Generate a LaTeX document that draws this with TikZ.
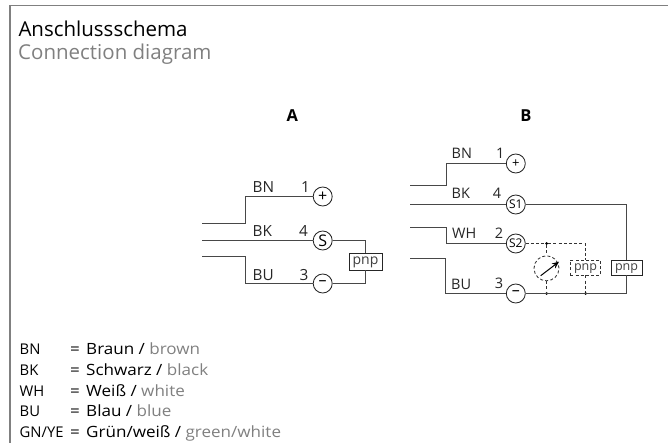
\documentclass[tikz,border=0pt]{standalone}
\usepackage{fontspec}
\setmainfont{Open Sans}
\newfontfamily\widef[FakeStretch=1.1]{Open Sans}
\usetikzlibrary{arrows.meta}
\definecolor{wire}{gray}{0.28}
\definecolor{frameg}{gray}{0.5}
\definecolor{transl}{gray}{0.5}
\newcommand{\fs}[1]{\fontsize{#1}{#1}\selectfont}
\tikzset{
  wireline/.style={draw=wire,line width=1pt},
  dashline/.style={draw=black!80,line width=0.85pt,dash pattern=on 3pt off 2.2pt},
  term/.style={circle,draw=black!85,line width=0.85pt,minimum size=19pt,inner sep=0pt,font=\fs{16}},
  termb/.style={term,font=\fs{13}},
  termsm/.style={term,font=\fs{12}},
  pnpbox/.style={draw=black!85,line width=0.85pt,fill=white,inner sep=0pt,text=black!75,font=\fs{12.5},text height=8pt,text depth=2.5pt},
  lab/.style={anchor=base west,inner sep=0pt,font=\fs{15.3},text=black!85},
  labb/.style={lab,font=\fs{14.5}},
  legk/.style={anchor=base west,inner sep=0pt,font=\fs{14.8},text=black},
  leg/.style={anchor=base west,inner sep=0pt,font=\widef\fs{15.5},text=black},
  ttl/.style={anchor=base west,inner sep=0pt,font=\fs{20.5}},
  head/.style={anchor=base,inner sep=0pt,font=\fs{16.5}\bfseries},
  dotn/.style={circle,fill=black,inner sep=0pt,minimum size=3pt}
}
\begin{document}
\begin{tikzpicture}[x=1pt,y=-1pt]
\useasboundingbox (0,0) rectangle (668,443);
\coordinate (fa) at (10,443);\coordinate (fb) at (10,5.7);\coordinate (fc) at (668,5.7);
\draw[draw=frameg,line width=1.3pt] (fa) -- (fb) -- (fc);
\node[ttl] (t1) at (18.3,36.7) {Anschlussschema};
\node[ttl,text=transl] (t2) at (18,60) {Connection diagram};
\node[head] (hA) at (292.3,121.7) {A};
\node[head] (hB) at (526,121.7) {B};
% A
\node[term] (ap) at (322.7,196.5) {+};
\node[term] (as) at (322.7,240.5) {S};
\node[term] (am) at (322.7,283.5) {–};
\node[pnpbox,font=\fs{14},minimum width=33pt,minimum height=16.7pt] (apnp) at (365.5,261.6) {pnp};
\coordinate (a1) at (202,223.5);\coordinate (a2) at (245.5,223.5);\coordinate (a3) at (245.5,196.5);
\coordinate (a4) at (202,240.5);
\coordinate (a5) at (202,256.5);\coordinate (a6) at (245.5,256.5);\coordinate (a7) at (245.5,283.5);
\draw[wireline] (a1) -- (a2) -- (a3) -- (ap);
\draw[wireline] (a4) -- (as);
\draw[wireline] (a5) -- (a6) -- (a7) -- (am);
\draw[wireline] (as) -| (apnp);
\draw[wireline] (am) -| (apnp);
\node[lab] (lbn) at (252.5,193) {BN};\node[lab] (l1) at (301,193) {1};
\node[lab] (lbk) at (252.5,236.7) {BK};\node[lab] (l4) at (298.8,236.7) {4};
\node[lab] (lbu) at (252.5,280.7) {BU};\node[lab] (l3) at (299.5,280.7) {3};
% B
\node[termb] (bp) at (515.8,163.5) {+};
\node[termsm] (bs1) at (515.8,204.5) {S1};
\node[termsm] (bs2) at (515.8,243.5) {S2};
\node[term] (bm) at (515.8,293.5) {–};
\node[pnpbox,minimum width=31pt,minimum height=15pt] (bpnp) at (626.5,267.5) {pnp};
\node[pnpbox,dashline,minimum width=30.4pt,minimum height=15pt] (dpnp) at (585.5,267.5) {pnp};
\node[circle,dashline,minimum size=25pt,inner sep=0pt] (meter) at (546.5,268.3) {};
\node[dotn] (d1) at (546.5,243.5) {};
\node[dotn] (d2) at (546.5,293.5) {};
\node[dotn] (d3) at (585.5,293.5) {};
\coordinate (b1) at (410,185.5);\coordinate (b2) at (446.5,185.5);\coordinate (b3) at (446.5,163.5);
\coordinate (b4) at (410,204.5);
\coordinate (b5) at (410,227.5);\coordinate (b6) at (446.5,227.5);\coordinate (b7) at (446.5,243.5);
\coordinate (b8) at (410,258.5);\coordinate (b9) at (445.5,258.5);\coordinate (b10) at (445.5,293.5);
\coordinate (b11) at (626.5,204.5);\coordinate (b12) at (626.5,293.5);
\coordinate (b13) at (585.5,243.5);
\coordinate (m1) at (540.7,275.7);\coordinate (m2) at (559,261.7);
\draw[wireline] (b1) -- (b2) -- (b3) -- (bp);
\draw[wireline] (b4) -- (bs1);
\draw[wireline] (b5) -- (b6) -- (b7) -- (bs2);
\draw[wireline] (b8) -- (b9) -- (b10) -- (bm);
\draw[wireline] (bs1) -- (b11) -- (bpnp);
\draw[wireline] (bm) -- (b12) -- (bpnp);
\draw[dashline] (bs2) -- (d1) -- (b13) -- (dpnp);
\draw[dashline] (dpnp) -- (d3);
\draw[dashline] (d1) -- (meter);
\draw[dashline] (meter) -- (d2);
\draw[draw=black,line width=1pt,-{Stealth[length=7pt,width=6pt]}] (m1) -- (m2);
\node[labb] (mbn) at (451.5,159) {BN};\node[labb] (m1l) at (496,159) {1};
\node[labb] (mbk) at (451.5,199) {BK};\node[labb] (m4l) at (492.7,199) {4};
\node[labb] (mwh) at (452,238.3) {WH};\node[labb] (m2l) at (494.7,238.3) {2};
\node[labb] (mbu) at (451,289.3) {BU};\node[labb] (m3l) at (494.7,288.3) {3};
% legend
\foreach \n/\k/\y/\de/\en in {a/BN/354.7/Braun/brown,b/BK/375.7/Schwarz/black,c/WH/396.7/Weiß/white,d/BU/416.7/Blau/blue,e/GN\slash YE/437/Grün\slash weiß/green\slash white}{
  \node[legk] (k\n) at (19.5,\y) {\k};
  \node[leg] (q\n) at (70,\y) {=};
  \node[leg] (v\n) at (86,\y) {\de{} / \textcolor{transl}{\en}};
}
\end{tikzpicture}
\end{document}
